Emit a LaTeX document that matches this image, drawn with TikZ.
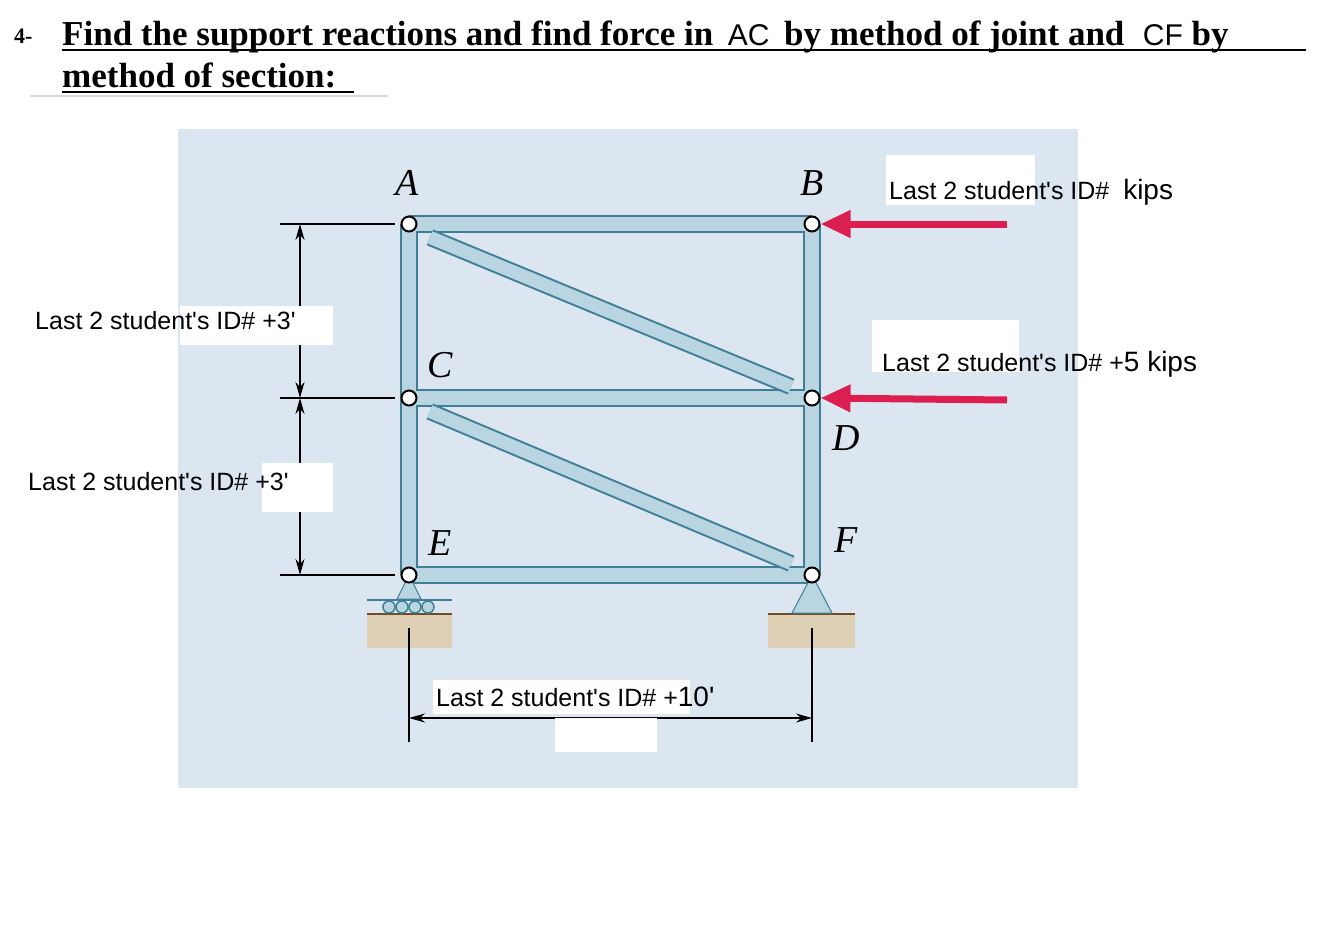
\documentclass[tikz,border=0pt]{standalone}
\usepackage{fontspec}
\setmainfont{Liberation Serif}
\newfontfamily\arial{Liberation Sans}
\usetikzlibrary{arrows.meta,calc}
\definecolor{bg}{HTML}{DCE6F1}
\definecolor{barc}{HTML}{B9D5E2}
\definecolor{bard}{HTML}{3E7E96}
\definecolor{redf}{HTML}{DC1F50}
\definecolor{tan}{HTML}{DDD0B4}
\begin{document}
\begin{tikzpicture}[x=1pt,y=-1pt,
  lab/.style={font=\arial\fontsize{25}{28}\selectfont,anchor=base west,inner sep=0pt},
  jl/.style={font=\itshape\fontsize{38}{40}\selectfont,inner sep=0pt},
  joint/.style={circle,draw=black,line width=2pt,fill=white,minimum size=15pt,inner sep=0pt},
  dim/.style={line width=1.5pt,black},
  ar/.style={-{Stealth[length=16pt,width=9pt]}}]
\useasboundingbox (0,0) rectangle (1328,926);
% title
\node[anchor=base west,inner sep=0pt,font=\bfseries\fontsize{22}{24}\selectfont] (n4) at (14,43) {4-};
\node[anchor=base west,inner sep=0pt,font=\bfseries\fontsize{35}{38}\selectfont] (t1) at (62,45) {Find the support reactions and find force in \,{\arial\mdseries\fontsize{30}{32}\selectfont AC}\, by method of joint and \;{\arial\mdseries\fontsize{30}{32}\selectfont CF} by};
\node[anchor=base west,inner sep=0pt,font=\bfseries\fontsize{35}{38}\selectfont] (t2) at (62,87) {method of section:};
\draw[line width=2pt] (t1.base west)++(0,5) -- ++(1244,0);
\draw[line width=2pt] (t2.base west)++(0,5) -- ++(292,0);
\draw[line width=1.5pt,black!15] (30,96) -- (388,96);
% background
\fill[bg] (178,129) rectangle (1078,788);
% coordinates
\coordinate (A) at (409,224); \coordinate (B) at (812,224);
\coordinate (C) at (409,398); \coordinate (D) at (812,398);
\coordinate (E) at (409,575); \coordinate (F) at (812,575);
% bars
\foreach \p/\q in {A/B,C/D,E/F,A/E,B/F}{
  \draw[bard,line width=18pt] (\p) -- (\q);}
\foreach \p/\q in {A/B,C/D,E/F,A/E,B/F}{
  \draw[barc,line width=14pt] (\p) -- (\q);}
\draw[bard,line width=17pt,shorten <=14pt,shorten >=14pt] ($(A)+(8,8)$) -- ($(D)+(-8,-6)$);
\draw[barc,line width=13pt,shorten <=14pt,shorten >=14pt] ($(A)+(8,8)$) -- ($(D)+(-8,-6)$);
\draw[bard,line width=17pt,shorten <=14pt,shorten >=14pt] ($(C)+(8,8)$) -- ($(F)+(-8,-6)$);
\draw[barc,line width=13pt,shorten <=14pt,shorten >=14pt] ($(C)+(8,8)$) -- ($(F)+(-8,-6)$);
% supports
\fill[tan] (367,614) rectangle (452,648);
\draw[brown!60!black,line width=1.5pt] (367,614) -- (452,614);
\fill[tan] (768,614) rectangle (855,648);
\draw[brown!60!black,line width=1.5pt] (768,614) -- (855,614);
\filldraw[fill=barc,draw=bard,line width=1pt] (E) -- (397,599) -- (421,599) -- cycle;
\draw[bard,line width=1.5pt] (367,600) -- (452,600);
\foreach \x in {389,402,415,428}{\filldraw[fill=barc,draw=bard,line width=1.5pt] (\x,607) circle (6);}
\filldraw[fill=barc,draw=bard,line width=1pt] (F) -- (792,613) -- (832,613) -- cycle;
% joints
\foreach \j in {A,B,C,D,E,F}{\node[joint] (j\j) at (\j) {};}
% joint labels
\node[jl] (lA) at (407,183) {A};
\node[jl] (lB) at (812,183) {B};
\node[jl] (lC) at (440,365) {C};
\node[jl] (lD) at (846,438) {D};
\node[jl] (lE) at (440,543) {E};
\node[jl] (lF) at (846,540) {F};
% forces
\coordinate (fB) at (1007,224); \coordinate (fD) at (1007,400);
\draw[redf,line width=7pt,-{Triangle[length=30pt,width=26pt]}] (fB) -- (jB.east);
\draw[redf,line width=7pt,-{Triangle[length=30pt,width=26pt]}] (fD) -- (jD.east);
% left dimensions
\foreach \y in {224,398,575}{\draw[dim] (280,\y) -- (395,\y);}
\coordinate (d1) at (300,224); \coordinate (d2) at (300,398); \coordinate (d3) at (300,575);
\draw[dim,ar] ($(d1)!0.5!(d2)$) -- (d1);
\draw[dim,ar] ($(d1)!0.5!(d2)$) -- (d2);
\draw[dim,ar] ($(d2)!0.5!(d3)$) -- (d2);
\draw[dim,ar] ($(d2)!0.5!(d3)$) -- (d3);
% bottom dimension
\draw[dim] (409,628) -- (409,742);
\draw[dim] (812,628) -- (812,742);
\coordinate (b1) at (409,718); \coordinate (b2) at (812,718);
\draw[dim,ar] ($(b1)!0.5!(b2)$) -- (b1);
\draw[dim,ar] ($(b1)!0.5!(b2)$) -- (b2);
% white boxes & labels
\fill[white] (886,155) rectangle (1035,205);
\node[lab] (L1) at (889,199) {Last 2 student's ID\#\; {\fontsize{28}{30}\selectfont kips}};
\fill[white] (872,320) rectangle (1019,372);
\node[lab] (L2) at (882,371) {Last 2 student's ID\# +{\fontsize{28}{30}\selectfont 5 kips}};
\fill[white] (180,306) rectangle (333,345);
\node[lab] (L3) at (35,329) {Last 2 student's ID\# +3'};
\fill[white] (262,463) rectangle (333,512);
\node[lab] (L4) at (28,490) {Last 2 student's ID\# +3'};
\fill[white] (433,680) rectangle (690,714);
\fill[white] (555,718) rectangle (657,752);
\node[lab] (L5) at (436,706) {Last 2 student's ID\# +{\fontsize{28}{30}\selectfont 10'}};
\end{tikzpicture}
\end{document}
